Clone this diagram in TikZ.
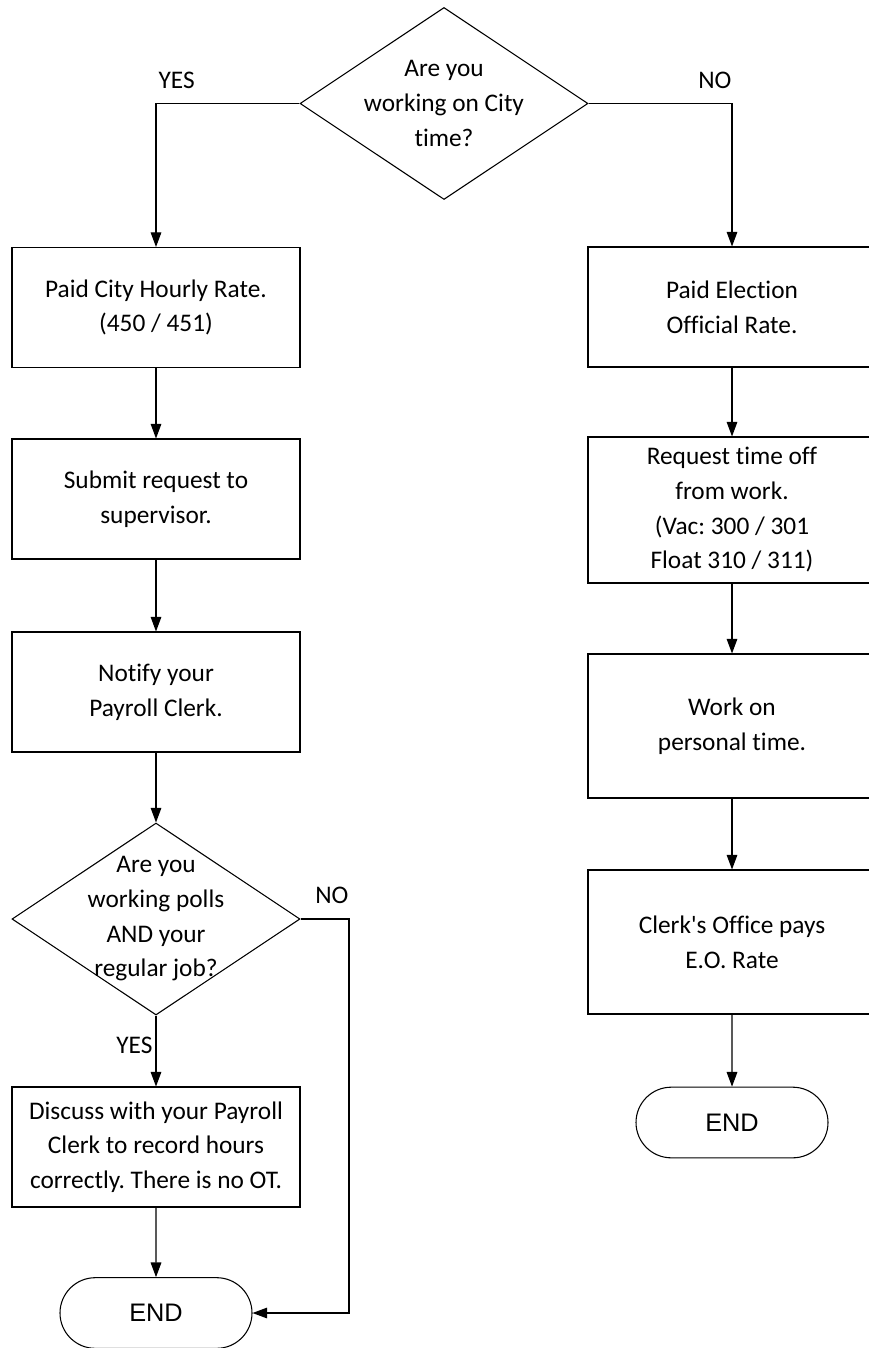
\documentclass[tikz,border=0pt]{standalone}
\usepackage{fontspec}
\setmainfont{Carlito}[Ligatures={NoCommon}]
\newfontfamily\endfont{Liberation Sans}
\usetikzlibrary{shapes.geometric,shapes.misc,arrows.meta}
\frenchspacing

\begin{document}
\begin{tikzpicture}[x=0.75pt,y=-0.75pt,
  every node/.style={font=\fontsize{19}{26}\selectfont},
  box/.style={draw,line width=0.8pt,rectangle,minimum width=216pt,minimum height=90pt,align=center,inner sep=0pt},
  ask/.style={draw,line width=0.8pt,diamond,minimum width=216pt,minimum height=144pt,inner sep=0pt},
  term/.style={draw,line width=0.8pt,rounded rectangle,minimum width=144pt,minimum height=53pt,inner sep=0pt,font=\endfont\fontsize{19}{26}\selectfont},
  link/.style={line width=0.8pt,-{Triangle[length=11pt,width=8pt]}},
  tag/.style={inner sep=1pt}]

\useasboundingbox (0,0) rectangle (868,1348);

\node[ask,label={[align=center]center:Are you\\working on City\\time?}] (q1) at (444,103.5) {};
\node[box] (a1) at (156,307.5) {Paid City Hourly Rate.\\(450 / 451)};
\node[box] (a2) at (156,499) {Submit request to\\supervisor.};
\node[box] (a3) at (156,692) {Notify your\\Payroll Clerk.};
\node[ask,label={[align=center]center:Are you\\working polls\\AND your\\regular job?}] (q2) at (156,919) {};
\node[box] (a4) at (156,1147) {Discuss with your Payroll\\Clerk to record hours\\correctly. There is no OT.};
\node[term] (e1) at (156,1313) {END};
\coordinate (k1) at (349,919);

\node[box] (b1) at (732,307) {Paid Election\\Official Rate.};
\node[box,minimum height=109.5pt] (b2) at (732,510) {Request time off\\from work.\\(Vac: 300 / 301\\Float 310 / 311)};
\node[box,minimum height=108pt] (b3) at (732,726) {Work on\\personal time.};
\node[box,minimum height=108pt] (b4) at (732,942) {Clerk\textquotesingle s Office pays\\E.O. Rate};
\node[term] (e2) at (732,1122.5) {END};

\node[tag,anchor=west] (y1) at (157,80) {YES};
\node[tag,anchor=east] (n1) at (733,80) {NO};
\node[tag,anchor=east] (n2) at (350,895) {NO};
\node[tag,anchor=east] (y2) at (154,1045) {YES};

\draw[link] (q1.west) -| (a1.north);
\draw[link] (q1.east) -| (b1.north);
\draw[link] (a1) -- (a2);
\draw[link] (a2) -- (a3);
\draw[link] (a3) -- (q2);
\draw[link] (q2) -- (a4);
\draw[link] (a4) -- (e1);
\draw[link] (q2.east) -- (k1) |- (e1.east);
\draw[link] (b1) -- (b2);
\draw[link] (b2) -- (b3);
\draw[link] (b3) -- (b4);
\draw[link] (b4) -- (e2);

\end{tikzpicture}
\end{document}
